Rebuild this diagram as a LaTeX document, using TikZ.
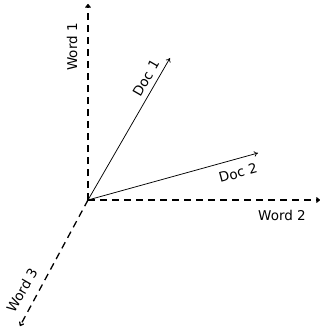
\documentclass[tikz,border=0pt]{standalone}
\usepackage{fontspec}
\setmainfont{DejaVu Sans}
\usetikzlibrary{arrows.meta}
\begin{document}
\begin{tikzpicture}[x=1pt,y=-1pt,
  axis/.style={dash pattern=on 7pt off 5pt, line width=1.3pt, -{To[length=4pt,width=5.5pt]}},
  docvec/.style={line width=0.75pt, -{To[length=4pt,width=5.5pt]}},
  lbl/.style={font=\fontsize{13.5}{15}\selectfont, inner sep=0pt}]
\useasboundingbox (0,0) rectangle (320,329);
\coordinate (o) at (88,200);
\coordinate (w1) at (88,4);
\coordinate (w2) at (320,200);
\coordinate (w3) at (20,326);
\coordinate (d1) at (170,58);
\coordinate (d2) at (258,153);
\draw[axis] (o) -- (w1);
\draw[axis] (o) -- (w2);
\draw[axis] (o) -- (w3);
\draw[docvec] (o) -- (d1);
\draw[docvec] (o) -- (d2);
\node[lbl, rotate=90] (l1) at (72,47) {Word 1};
\node[lbl] (l2) at (282,215) {Word 2};
\node[lbl, rotate=60] (l3) at (22,290) {Word 3};
\node[lbl, rotate=60] (ld1) at (146,78) {Doc 1};
\node[lbl, rotate=15] (ld2) at (238,173) {Doc 2};
\end{tikzpicture}
\end{document}
